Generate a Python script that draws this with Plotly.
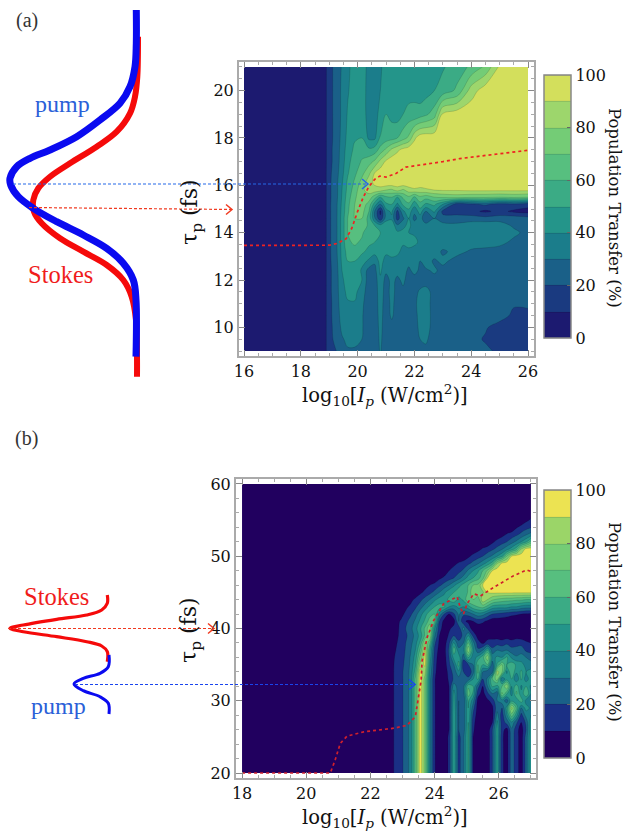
import plotly.graph_objects as go

SERIF = "DejaVu Serif"
TITLE = "Liberation Serif"

# ---------- panel (a) ----------
log_a = [16,18.87,18.93,19.25,19.45,19.65,19.9,20.15,20.4,20.6,20.8,21,21.2,21.4,21.6,21.8,22,22.2,22.4,22.7,23,23.5,24,24.5,25,25.5,26]
tau_a = [21,20,19,18,17.5,17,16.5,16.1,15.8,15.5,15.2,14.9,14.6,14.3,14,13.6,13.2,12.8,12.4,12,11.5,11,10.5,10,9.5,9]
transfer_a = [
[2,6,14,24,31,38,44,46,36,33,38,46,48,47,43,42,46,46,44,47,49,55,62,72,92,96,96],
[2,6,14,24,32,39,45,46,35,32,40,47,46,43,40,45,48,44,46,50,54,62,85,96,97,97,97],
[2,6,14,24,32,41,47,45,36,35,44,50,47,45,50,54,52,55,58,65,92,96,97,97,97,97,97],
[2,6,14,24,33,43,49,50,38,38,51,55,56,60,66,72,88,96,97,97,97,97,97,97,97,97,97],
[2,6,14,25,34,45,52,56,52,54,64,72,82,88,93,96,97,97,97,97,97,97,97,97,97,97,97],
[2,6,14,25,35,47,55,61,66,72,83,92,96,97,97,97,97,97,97,97,97,97,97,97,97,97,97],
[2,6,15,26,37,49,58,67,78,91,96,97,97,97,97,97,97,97,97,97,97,97,97,97,97,97,97],
[2,6,15,27,39,52,62,74,86,92,96,97,97,97,97,97,97,97,97,97,97,97,97,97,97,97,97],
[2,6,15,27,40,53,65,78,84,86,85,80,78,84,78,85,88,86,88,90,91,91,92,92,92,92,92],
[2,6,15,27,41,55,68,78,76,64,50,58,60,50,62,68,58,68,64,70,72,74,72,72,70,72,70],
[2,6,15,28,42,57,70,76,66,45,30,48,50,38,52,58,44,56,48,52,40,14,18,22,16,18,14],
[2,6,15,28,43,58,71,74,60,30,8,36,42,17,38,46,32,45,30,42,17,18,13,8,13,8,6],
[2,6,15,28,44,60,70,70,56,32,12,35,38,16,28,40,27,35,22,30,24,22,25,24,25,26,24],
[2,6,15,28,44,60,68,66,58,50,44,48,48,32,38,42,36,38,34,36,34,34,36,37,36,28,24],
[2,6,15,28,44,60,66,62,52,55,50,42,44,42,42,40,38,38,36,36,34,36,38,38,36,33,26],
[2,6,15,28,44,58,62,58,52,50,44,44,42,42,42,43,44,37,38,36,37,34,36,36,34,27,24],
[2,6,15,28,43,54,56,52,47,44,47,42,44,43,36,38,33,36,34,36,28,34,28,26,24,22,22],
[2,6,15,27,42,50,50,44,38,32,44,36,37,35,36,33,34,30,36,28,33,25,30,24,22,22,22],
[2,6,15,26,40,47,50,38,26,26,42,32,36,33,34,28,33,28,28,32,26,24,24,22,22,22,22],
[2,6,15,26,38,45,47,40,24,24,38,26,33,28,32,26,26,24,25,26,24,24,24,23,22,22,22],
[2,6,15,26,37,42,43,34,25,24,36,25,34,26,28,25,26,32,34,26,24,24,23,23,22,22,21],
[2,6,15,25,36,39,39,32,24,24,35,24,33,25,26,24,27,35,36,24,24,24,23,23,22,21,22],
[2,6,15,25,34,36,36,31,24,24,34,24,32,24,24,24,26,34,36,25,24,24,22,22,24,18,17],
[2,6,15,24,32,34,34,31,24,24,33,24,26,24,24,24,25,33,35,25,24,24,23,21,16,17,15],
[2,6,15,23,29,32,32,30,24,24,32,24,24,24,24,24,24,30,32,24,24,23,23,19,15,14,14],
[2,6,15,20,26,29,29,26,24,24,31,24,24,24,24,24,24,26,27,24,24,23,22,22,18,14,13],
]
red_a_log = [16,19,19.3,19.6,19.8,20.0,20.2,20.4,20.6,20.78,21.0,21.35,21.7,22.2,23,23.6,24.4,25.2,26]
red_a_tau = [13.46,13.47,13.55,13.75,14.2,14.9,15.5,15.95,16.25,16.39,16.35,16.5,16.77,16.85,17.0,17.13,17.25,17.37,17.48]

# ---------- panel (b) ----------
log_b = [18,22.68,22.75,22.95,23.1,23.25,23.4,23.55,23.7,23.85,24.0,24.15,24.3,24.45,24.6,24.75,24.9,25.05,25.2,25.35,25.5,25.65,25.8,25.95,26.1,26.25,26.4,26.55,26.7,26.85,27]
tau_b = [60,56,55,54,53,52,51,50,49,48,47,46,45,44,43,42,41,40,39,38,37,36,35,34,33,32,31,30,29,28,27,26,25,24,22,20]
transfer_b = [
[3]*31,
[3]*30+[8],
[3]*29+[8,11],
[3]*27+[9,13,16,19],
[3]*24+[7,11,14,18,23,29,34],
[3]*22+[8,13,16,20,26,32,40,48,63],
[3]*19+[7,11,14,18,23,29,36,44,55,80,93,95],
[3]*17+[8,13,16,20,26,32,40,48,70,90,95,95,95,95],
[3]*14+[8,11,14,18,23,29,36,44,55,80,92,95,95,95,95,95,95],
[3]*13+[10,13,17,22,32,40,48,60,72,90,95,95,95,95,95,95,95,95],
[3]*11+[8,12,16,20,26,34,44,50,56,66,90,95,95,95,95,95,95,95,95,95],
[3]*8+[7,10,13,18,24,30,38,46,54,60,70,72,90,95,95,95,95,95,95,95,95,95,95],
[3]*7+[8,12,17,23,30,38,46,50,56,50,62,78,80,78,90,92,92,92,92,92,92,92,92,92],
[3]*5+[7,12,17,24,30,38,44,45,52,58,46,52,68,70,62,88,80,72,68,66,64,64,62,62,60,60],
[3]*4+[8,12,18,26,34,42,50,54,52,40,36,42,40,46,56,60,64,56,46,44,44,44,40,40,36,34,34],
[3]*3+[7,12,18,26,36,46,56,60,36,20,10,18,32,22,24,30,36,34,26,20,18,16,14,12,11,10,9,8],
[3,3,6,11,17,24,32,42,52,65,62,20,6,4,6,30,12,8,10,14,12,8,4,4,4,4,4,4,4,4,4],
[3,3,6,12,20,27,36,48,62,78,40,14,5,8,14,14,34,16,5,3,3,3,3,3,3,3,3,3,3,3,3],
[3,3,7,12,18,25,33,44,62,80,32,10,3,12,20,16,22,40,18,6,4,5,8,5,4,4,4,4,4,4,4],
[3,4,8,13,20,27,36,52,82,62,22,8,5,18,42,22,30,62,34,14,8,14,12,16,14,18,14,18,16,12,10],
[3,5,9,14,21,29,40,62,92,50,18,6,6,22,58,34,36,80,42,22,30,50,24,30,28,30,24,22,26,18,16],
[3,6,10,15,22,31,44,72,94,46,15,5,5,20,44,46,24,52,34,44,56,78,36,42,40,52,38,32,34,30,26],
[3,7,11,16,23,32,48,84,92,42,14,4,4,18,30,54,12,20,30,60,50,60,24,52,70,50,56,48,44,36,34],
[3,8,11,17,24,33,54,94,84,38,13,3,3,14,24,38,20,10,26,62,30,22,26,84,72,38,60,42,52,40,44],
[3,8,11,17,24,34,62,96,76,34,11,3,3,12,22,26,26,24,40,52,20,32,60,76,30,46,50,30,52,34,46],
[3,8,11,17,24,34,62,96,76,34,11,3,3,10,36,24,28,58,50,24,10,30,52,46,60,80,40,56,38,50,38],
[3,8,11,17,24,34,62,96,76,34,11,3,3,10,44,22,26,66,48,14,6,18,30,24,72,52,36,62,42,60,40],
[3,8,11,17,24,34,62,96,76,34,11,3,3,10,46,20,22,52,34,6,4,8,14,30,36,24,48,42,56,36,30],
[3,8,11,17,24,34,62,96,76,34,11,3,3,10,48,20,24,50,24,5,3,4,8,26,20,44,84,58,30,44,38],
[3,8,11,17,24,34,62,96,76,34,11,3,3,10,50,20,24,50,18,4,3,3,6,34,14,38,66,44,16,34,40],
[3,8,11,17,24,34,62,96,76,34,11,3,3,10,50,20,24,50,14,3,3,3,10,42,14,24,38,22,10,22,46],
[3,8,11,17,24,34,62,96,76,34,11,3,3,10,50,20,24,52,12,3,3,3,20,46,14,6,28,14,5,20,46],
[3,8,11,17,24,34,62,96,76,34,11,3,3,12,50,16,28,52,10,3,3,3,20,46,12,5,26,14,5,24,48],
[3,8,11,17,24,34,62,96,76,34,11,3,3,12,50,16,28,52,10,3,3,3,20,46,12,5,26,14,5,24,48],
[3,8,11,17,24,34,62,96,76,34,11,3,3,12,50,16,28,52,10,3,3,3,20,46,12,5,26,14,5,24,48],
[3,8,11,17,24,34,62,96,76,34,11,3,3,12,50,16,28,52,10,3,3,3,20,46,12,5,26,14,5,24,48],
]
red_b_log = [18,20.75,20.9,21.06,21.27,21.79,22.73,23.14,23.4,23.5,23.58,23.61,23.77,23.97,24.28,24.7,24.8,24.9,25.01,25.22,25.43,25.84,26.46,26.87,27]
red_b_tau = [20,20,21.8,24.1,25.1,25.7,26.2,26.6,27.8,30.5,32.8,35.5,38.8,41.1,43.4,44.4,42.9,42,43.4,44.8,44.5,45.7,47.3,48.1,47.9]

for grid, xs in ((transfer_a, log_a), (transfer_b, log_b)):
    for row in grid:
        assert len(row) == len(xs), (len(row), len(xs), row)

# ---------- pulse sketches (page pixels) ----------
pump_a_amp = [136.3,136.3,135,130,120,100,76.7,50,30,16.7,10,10.7,18.3,33.3,56.7,83.3,106.7,123.3,133.3,136,136]
pump_a_t = [10,43.3,66.7,86.7,103.3,120,136.7,150,158.3,166.7,178.3,185,196.7,208.3,221.7,235,248.3,263.3,280,300,356.7]
stokes_a_amp = [138,137.3,135,130,116.7,96.7,70,50,38.3,33.3,34,41.7,60,83.3,106.7,123.3,131.7,136,137,137]
stokes_a_t = [36.7,76.7,96.7,113.3,131.7,146.7,163.3,176.7,188.3,200,211.7,223.3,238.3,251.7,265,280,296.7,320,356.7,376.7]
stokes_b_amp = [107.3,107.3,101.7,86.7,56.7,23.3,10,23.3,56.7,86.7,101.7,107.3,107.3]
stokes_b_t = [595,603.3,610,615,619.3,625,628.3,631.7,636.7,641.7,646,651.7,661.7]
pump_b_amp = [109,108.3,100,83.3,74,83.3,100,108.3,109]
pump_b_t = [655,666.7,673.3,678.3,684,690.7,696.7,703.3,714]

bands_a = ["#1c1a70","#1a3a80","#1a6088","#1b7d8b","#24958a","#3bab85","#57bf7f","#74cc76","#9dd66c","#d3df5c"]
bands_b = ["#21005f","#1a2f85","#1a6088","#1b7d8b","#24958a","#3bab85","#57bf7f","#74cc76","#9bd568","#ece352"]

def scale(colors):
    out = []
    for i, c in enumerate(colors):
        out += [[i/10, c], [(i+1)/10, c]]
    return out

def contour(x, y, z, colors, ax, top, height, xa, ya):
    return go.Contour(
        x=x, y=y, z=z, xaxis=xa, yaxis=ya, zmin=0, zmax=100, colorscale=scale(colors),
        autocontour=False, contours=dict(start=0, end=100, size=10, coloring="fill"),
        line=dict(color="rgba(0,0,0,0.22)", width=0.6), hoverinfo="skip",
        colorbar=dict(x=ax/626, xanchor="left", xpad=0, ypad=0, y=1-top/834, yanchor="top",
                      lenmode="pixels", len=height, thicknessmode="pixels", thickness=27,
                      tickvals=[0,20,40,60,80,100], ticks="inside", ticklen=4, tickcolor="#666",
                      outlinecolor="#888", outlinewidth=1.5,
                      tickfont=dict(family=SERIF, size=16, color="#111")))

fig = go.Figure()
fig.add_trace(contour(log_a, tau_a, transfer_a, bands_a, 544, 75, 263, "x", "y"))
fig.add_trace(contour(log_b, tau_b, transfer_b, bands_b, 544, 490, 268, "x2", "y2"))
fig.add_trace(go.Scatter(x=red_a_log, y=red_a_tau, xaxis="x", yaxis="y", mode="lines",
                         line=dict(color="#ee2222", width=1.7, dash="dot"), hoverinfo="skip"))
fig.add_trace(go.Scatter(x=red_b_log, y=red_b_tau, xaxis="x2", yaxis="y2", mode="lines",
                         line=dict(color="#d0202c", width=1.7, dash="dot"), hoverinfo="skip"))

def pulse(x, y, color, w):
    fig.add_trace(go.Scatter(x=x, y=y, xaxis="x3", yaxis="y3", mode="lines",
                             line=dict(color=color, width=w, shape="spline"), hoverinfo="skip"))

pulse(stokes_a_amp, stokes_a_t, "#f50a0a", 6)
pulse(pump_a_amp, pump_a_t, "#0a0af0", 7)
pulse(stokes_b_amp, stokes_b_t, "#f50a0a", 3.2)
pulse(pump_b_amp, pump_b_t, "#0a0af0", 3)

arrows = [(13,184,368,184,"#2468e8"),(29,207.5,232,209.5,"#f03a20"),(8,628.5,214,628.5,"#f03a20"),(75,684.5,415,684.5,"#1a44ee")]
for x0,y0,x1,y1,c in arrows:
    fig.add_trace(go.Scatter(x=[x0,x1], y=[y0,y1], xaxis="x3", yaxis="y3", mode="lines",
                             line=dict(color=c, width=1.2, dash="3px,2px"), hoverinfo="skip"))
    fig.add_trace(go.Scatter(x=[x1-6,x1,x1-6], y=[y1-5,y1,y1+5], xaxis="x3", yaxis="y3", mode="lines",
                             line=dict(color=c, width=1.5), hoverinfo="skip"))

def label(x, y, text, size, color="#111", fam=SERIF, angle=0):
    fig.add_annotation(x=x, y=y, xref="x3", yref="y3", text=text, showarrow=False, textangle=angle,
                       xanchor="center", yanchor="middle", font=dict(family=fam, size=size, color=color))

label(27,20,"(a)",20,"#333",TITLE)
label(26,438,"(b)",20,"#333",TITLE)
label(62,104,"pump",24,"#2a5fd8",TITLE)
label(60,274,"Stokes",24.5,"#f01c1c",TITLE)
label(56,596,"Stokes",24.5,"#f01c1c",TITLE)
label(58,706,"pump",24,"#2a5fd8",TITLE)
xt = "log<sub>10</sub>[<i>I<sub>p</sub></i> (W/cm<sup>2</sup>)]"
yt = "τ<sub>p</sub> (fs)"
label(385,395,xt,19.5)
label(385,817,xt,19.5)
label(191,212,yt,22,angle=-90)
label(190,630,yt,22,angle=-90)
label(615,208,"Population Transfer (%)",16.5,angle=90)
label(615,622,"Population Transfer (%)",16.5,angle=90)

def axis(domain, rng, dtick, minor, anchor, tick0):
    return dict(domain=domain, range=rng, anchor=anchor, tick0=tick0, dtick=dtick, ticks="inside", ticklen=6,
                tickcolor="#888", tickwidth=1, showgrid=False, zeroline=False, showline=True, linecolor="#aaa",
                linewidth=2, mirror="allticks", tickfont=dict(family=SERIF, size=16, color="#111"),
                minor=dict(ticks="inside", ticklen=3, tickcolor="#aaa", dtick=minor, tick0=tick0), fixedrange=True)

fig.update_layout(
    width=626, height=834, autosize=False, margin=dict(l=0,r=0,t=0,b=0,autoexpand=False), showlegend=False,
    paper_bgcolor="white", plot_bgcolor="rgba(0,0,0,0)",
    xaxis=axis([239/626,534/626],[15.824,26.21],2,0.5,"y",16),
    yaxis=axis([1-356/834,1-62/834],[8.79,21.21],2,0.5,"x",10),
    xaxis2=axis([236/626,536/626],[17.81,27.16],2,0.5,"y2",18),
    yaxis2=axis([1-778/834,1-479/834],[19.31,60.69],10,2,"x2",20),
    xaxis3=dict(domain=[0,1],range=[0,626],visible=False,anchor="y3",fixedrange=True),
    yaxis3=dict(domain=[0,1],range=[834,0],visible=False,anchor="x3",fixedrange=True),
)
fig.write_html("out.html", config={"displayModeBar": False},
               post_script="document.body.style.margin='0';")
